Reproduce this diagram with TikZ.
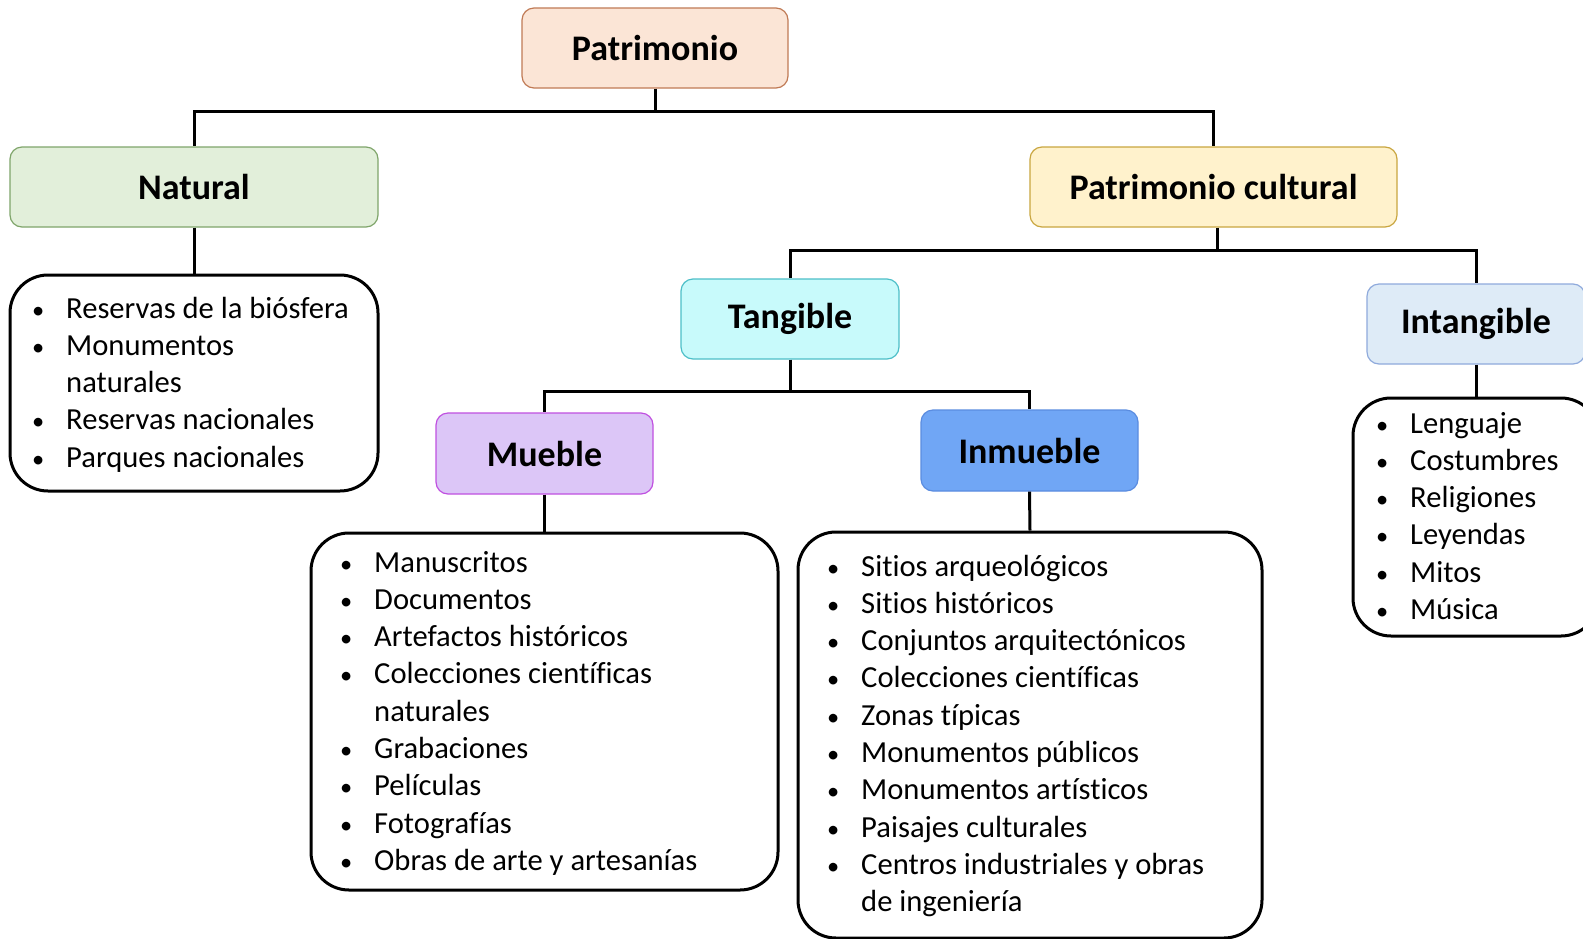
\documentclass[tikz,border=0pt]{standalone}
\usepackage{fontspec}
\setmainfont{Carlito}[Ligatures={NoCommon}]
\definecolor{patfill}{HTML}{FBE5D6}
\definecolor{patdraw}{HTML}{C07A55}
\definecolor{natfill}{HTML}{E2EFDA}
\definecolor{natdraw}{HTML}{7FA56A}
\definecolor{pcfill}{HTML}{FFF2CC}
\definecolor{pcdraw}{HTML}{C9A640}
\definecolor{tanfill}{HTML}{C8FAFB}
\definecolor{tandraw}{HTML}{4DBFC8}
\definecolor{intfill}{HTML}{DEEBF7}
\definecolor{intdraw}{HTML}{8FAADC}
\definecolor{mubfill}{HTML}{DCC6F7}
\definecolor{mubdraw}{HTML}{C050E0}
\definecolor{inmfill}{HTML}{70A6F5}
\definecolor{inmdraw}{HTML}{5A8CE0}
\tikzset{
  head/.style={rectangle, rounded corners=12pt, line width=1.2pt, minimum height=80pt,
    font=\fontsize{36}{42}\selectfont\bfseries, inner sep=0pt},
  listbox/.style={rectangle, rounded corners=38pt, draw=black, line width=3pt, inner sep=0pt},
  listtext/.style={anchor=base west, inner sep=0pt, font=\fontsize{30.6}{37.3}\selectfont},
  conn/.style={draw=black, line width=3pt},
}
\newcommand{\bl}{\makebox[35pt][l]{\hspace{1pt}\scalebox{0.8}{•}}}
\begin{document}
\begin{tikzpicture}[x=1pt,y=-1pt]
\clip (0,0) rectangle (1583,938);
\fill[white] (0,0) rectangle (1583,938);
% heading boxes
\node[head, fill=patfill, draw=patdraw, minimum width=266pt] (pat) at (655,48) {Patrimonio};
\node[head, fill=natfill, draw=natdraw, minimum width=368pt] (nat) at (194,187) {Natural};
\node[head, fill=pcfill, draw=pcdraw, minimum width=367pt] (pc) at (1213.5,187) {Patrimonio cultural};
\node[head, fill=tanfill, draw=tandraw, minimum width=218pt] (tan) at (790,319) {Tangible};
\node[head, fill=intfill, draw=intdraw, minimum width=218pt] (int) at (1476,324) {Intangible};
\node[head, fill=mubfill, draw=mubdraw, minimum width=217pt, minimum height=81pt] (mub) at (544.5,453.5) {Mueble};
\node[head, fill=inmfill, draw=inmdraw, minimum width=217pt, minimum height=81pt] (inm) at (1029.5,450.5) {Inmueble};
% list boxes
\node[listbox, minimum width=368pt, minimum height=216pt] (natl) at (194,383) {};
\node[listbox, minimum width=467pt, minimum height=357pt] (mubl) at (544.5,711.5) {};
\node[listbox, minimum width=464pt, minimum height=406pt] (inml) at (1030,735) {};
\node[listbox, minimum width=246pt, minimum height=238pt] (intl) at (1476,517) {};
% list texts
\node[listtext] (natt) at (31,318) {\begin{tabular}[t]{@{}l@{}}
\bl Reservas de la biósfera\\
\bl Monumentos\\
\hspace{35pt}naturales\\
\bl Reservas nacionales\\
\bl Parques nacionales
\end{tabular}};
\node[listtext] (mubt) at (339,572) {\begin{tabular}[t]{@{}l@{}}
\bl Manuscritos\\
\bl Documentos\\
\bl Artefactos históricos\\
\bl Colecciones científicas\\
\hspace{35pt}naturales\\
\bl Grabaciones\\
\bl Películas\\
\bl Fotografías\\
\bl Obras de arte y artesanías
\end{tabular}};
\node[listtext] (inmt) at (826,576) {\begin{tabular}[t]{@{}l@{}}
\bl Sitios arqueológicos\\
\bl Sitios históricos\\
\bl Conjuntos arquitectónicos\\
\bl Colecciones científicas\\
\bl Zonas típicas\\
\bl Monumentos públicos\\
\bl Monumentos artísticos\\
\bl Paisajes culturales\\
\bl Centros industriales y obras\\
\hspace{35pt}de ingeniería
\end{tabular}};
\node[listtext] (intt) at (1375,433) {\begin{tabular}[t]{@{}l@{}}
\bl Lenguaje\\
\bl Costumbres\\
\bl Religiones\\
\bl Leyendas\\
\bl Mitos\\
\bl Música
\end{tabular}};
% connectors
\coordinate (j1) at (655,111);
\coordinate (j2) at (1217,250);
\coordinate (j3) at (790,391);
\draw[conn] (pat.south) -- (j1);
\draw[conn] (j1) -| (nat.north);
\draw[conn] (j1) -| (pc.north);
\draw[conn] (pc.south -| j2) -- (j2);
\draw[conn] (j2) -| (tan.north);
\draw[conn] (j2) -| (int.north);
\draw[conn] (tan.south) -- (j3);
\draw[conn] (j3) -| (mub.north);
\draw[conn] (j3) -| (inm.north);
\draw[conn] (nat.south) -- (natl.north);
\draw[conn] (mub.south) -- (mubl.north);
\draw[conn] (inm.south) -- (inml.north);
\draw[conn] (int.south) -- (intl.north);
\end{tikzpicture}
\end{document}
